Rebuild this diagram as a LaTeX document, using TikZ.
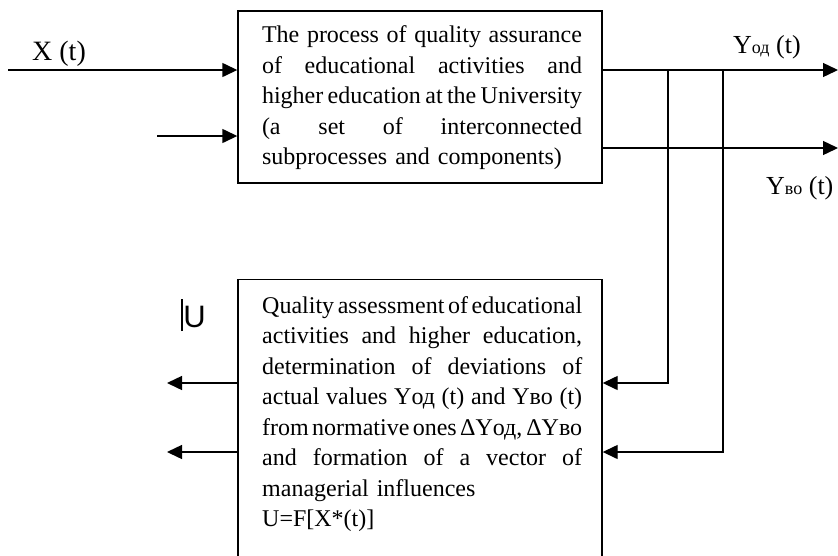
\documentclass[tikz,border=0pt]{standalone}
\usepackage{fontspec}
\setmainfont{Liberation Serif}
\newfontfamily\usans{Liberation Sans}
\usetikzlibrary{arrows.meta}
\tikzset{
  box/.style={draw=black, line width=1.4pt, minimum width=364pt, inner sep=0pt},
  arr/.style={line width=1.4pt, -{Triangle[length=15pt,width=14pt]}},
  boxtext/.style={font=\fontsize{24}{30.5}\selectfont, align=left, text width=320pt, inner sep=0pt},
  lab/.style={anchor=base west, inner sep=0pt, font=\fontsize{26}{28}\selectfont}
}
\newcommand{\jl}[1]{\leavevmode\hbox to 320pt{\spaceskip=0.25em plus 2em minus 0.15em\relax #1}}
\newcommand{\smallsub}[1]{{\fontsize{18}{18}\selectfont #1}}
\begin{document}
\begin{tikzpicture}[x=1pt,y=-1pt]
\useasboundingbox (0,0) rectangle (838,555);
\clip (0,0) rectangle (838,555);
% process box
\node[box, minimum height=172pt] (proc) at (420,97) {};
\node[boxtext] (proctext) at (422,98) {%
\jl{The process of quality assurance}\\
\jl{of educational activities and}\\
\jl{higher education at the University}\\
\jl{(a set of interconnected}\\
subprocesses and components)};
% assessment box
\node[box, minimum height=300pt, anchor=north] (assess) at (420,279) {};
\node[boxtext, anchor=north west] (assesstext) at (262,296) {%
\jl{Quality assessment of educational}\\
\jl{activities and higher education,}\\
\jl{determination of deviations of}\\
\jl{actual values Yод (t) and Yво (t)}\\
\jl{from normative ones ΔYод, ΔYво}\\
\jl{and formation of a vector of}\\
managerial influences\\
U=F[X*(t)]};
% inputs
\coordinate (xin) at (8,70);
\coordinate (uin) at (157,136);
\draw[arr] (xin) -- (xin -| proc.west);
\draw[arr] (uin) -- (uin -| proc.west);
\node[lab, font=\fontsize{28}{30}\selectfont] (xlab) at (32,60) {X (t)};
% outputs
\coordinate (yod) at (838,70);
\coordinate (yvo) at (838,148);
\draw[arr] (yod -| proc.east) -- (yod);
\draw[arr] (yvo -| proc.east) -- (yvo);
\node[lab] (yodlab) at (733,53) {Y\smallsub{од} (t)};
\node[lab] (yvolab) at (766,194) {Y\smallsub{во} (t)};
% feedback
\coordinate (f1) at (668,70);
\coordinate (f1b) at (668,383);
\coordinate (f2) at (723,70);
\coordinate (f2b) at (723,452);
\draw[arr] (f1) -- (f1b) -- (f1b -| assess.east);
\draw[arr] (f2) -- (f2b) -- (f2b -| assess.east);
% control outputs
\coordinate (u1) at (167,383);
\coordinate (u2) at (167,452);
\draw[arr] (u1 -| assess.west) -- (u1);
\draw[arr] (u2 -| assess.west) -- (u2);
\node[anchor=base west, inner sep=0pt, font=\usans\fontsize{31}{31}\selectfont] (ulab) at (181,327) {\rule[-4pt]{2.2pt}{32pt}U};
\end{tikzpicture}
\end{document}
